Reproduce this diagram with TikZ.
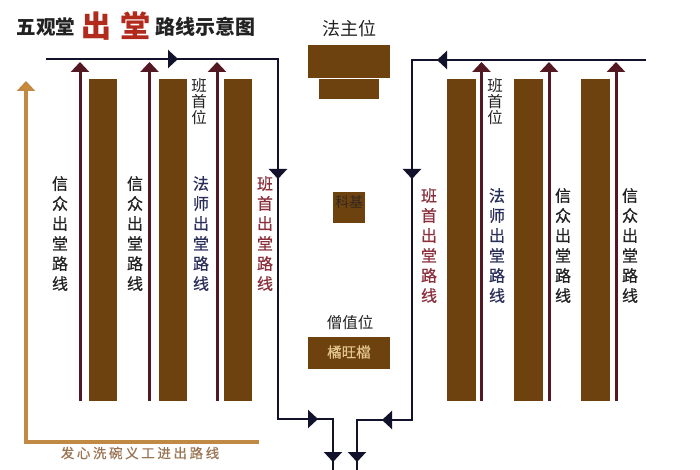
\documentclass[tikz,border=0pt]{standalone}
\usepackage{fontspec}
\newfontfamily\cjk{Noto Sans CJK SC}
\newfontfamily\cjkf[FakeBold=0.5]{Noto Sans CJK SC}
\usetikzlibrary{arrows.meta}
\definecolor{barbrown}{HTML}{6E420F}
\definecolor{routered}{HTML}{541822}
\definecolor{routenavy}{HTML}{12122C}
\definecolor{routeorange}{HTML}{C08A45}
\definecolor{headorange}{HTML}{D98A2B}
\definecolor{textred}{HTML}{8A2F3C}
\definecolor{textnavy}{HTML}{2A2F5A}
\definecolor{textdark}{HTML}{222222}
\definecolor{titlered}{HTML}{B22A1C}
\definecolor{texttan}{HTML}{9A7350}
\definecolor{plaquetext}{HTML}{E3C48C}
\tikzset{
  x=1pt,y=-1pt,
  bar/.style={fill=barbrown,draw=none},
  navyline/.style={draw=routenavy,line width=2.2pt,line cap=rect},
  navytip/.style={navyline,-{Triangle[width=18pt,length=10pt,fill=routenavy]}},
  redroute/.style={draw=routered,line width=3pt,-{Triangle[width=18pt,length=10pt,fill=routered]}},
  orangeroute/.style={draw=routeorange,line width=3.5pt,line cap=rect},
  orangetip/.style={draw=routeorange,line width=3.5pt,-{Triangle[width=18pt,length=10pt,fill=headorange]}},
  vtext/.style={font=\cjkf\fontsize{16}{20}\selectfont,align=center,anchor=north,inner sep=0pt},
  stext/.style={font=\cjk\fontsize{15.5}{16.3}\selectfont,align=center,anchor=north,inner sep=0pt,text=textdark},
}
\begin{document}
\begin{tikzpicture}
\useasboundingbox (0,0) rectangle (700,470);
\fill[white] (0,0) rectangle (700,470);
% title
\node[font=\cjk\bfseries\fontsize{19.5}{20}\selectfont,text=textdark,inner sep=0pt] (t1) at (46,27) {五观堂};
\node[font=\cjk\bfseries\fontsize{30}{30}\selectfont,text=titlered,inner sep=0pt] (t2) at (96,26) {出};
\node[font=\cjk\bfseries\fontsize{30}{30}\selectfont,text=titlered,inner sep=0pt] (t3) at (135,26) {堂};
\node[font=\cjk\bfseries\fontsize{20}{20}\selectfont,text=textdark,inner sep=0pt] (t4) at (205,27) {路线示意图};
% bars
\foreach \n/\a/\b in {bl1/88.5/117,bl2/159/187,bl3/224/252,br1/447/475.5,br2/514/542.5,br3/581/610}
  \fill[bar] (\a,79) rectangle (\b,401);
% centre
\node[font=\cjk\fontsize{18}{18}\selectfont,text=textdark,inner sep=0pt] (fzw) at (349,29) {法主位};
\fill[bar] (308,45) rectangle (390,78);
\fill[bar] (318.5,79) rectangle (379,99);
\fill[bar] (333,192) rectangle (365,223);
\node[font=\cjk\fontsize{14}{14}\selectfont,text=textdark!80!barbrown,inner sep=0pt] (kj) at (349,202) {科基};
\node[font=\cjk\fontsize{15.5}{16}\selectfont,text=textdark,inner sep=0pt] (szw) at (350,323) {僧值位};
\fill[bar] (308,337) rectangle (390,369);
\node[font=\cjkf\fontsize{14.5}{14}\selectfont,text=plaquetext,inner sep=0pt] (jw) at (349,352) {橘旺檔};
% coordinates of the routes
\coordinate (L0) at (47,59);
\coordinate (La) at (178,59);
\coordinate (Lc) at (278,59);
\coordinate (Ld) at (278,179);
\coordinate (Le) at (278,419);
\coordinate (Lf) at (318,419);
\coordinate (Lg) at (333,419);
\coordinate (Lh) at (333,462);
\coordinate (Li) at (333,470);
\coordinate (R0) at (645,60);
\coordinate (Ra) at (437,60);
\coordinate (Rc) at (412,60);
\coordinate (Rd) at (412,179);
\coordinate (Re) at (412,420);
\coordinate (Rf) at (382,420);
\coordinate (Rg) at (357,420);
\coordinate (Rh) at (357,462);
\coordinate (Ri) at (357,470);
% left route
\draw[navytip] (L0) -- (La);
\draw[navytip] (La) -- (Lc) -- (Ld);
\draw[navyline] (Ld) -- (Le) -- (Lf);
\draw[navytip] (Le) -- (Lf);
\draw[navyline] (Lf) -- (Lg) -- (Li);
\draw[navytip] (Lf) -- (Lg) -- (Lh);
% right route
\draw[navytip] (R0) -- (Ra);
\draw[navytip] (Ra) -- (Rc) -- (Rd);
\draw[navyline] (Rd) -- (Re) -- (Rf);
\draw[navytip] (Re) -- (Rf);
\draw[navyline] (Rf) -- (Rg) -- (Ri);
\draw[navytip] (Rf) -- (Rg) -- (Rh);
% red routes
\foreach \x in {80,149.5,217,481.5,549,616} {
  \coordinate (rb) at (\x,401);
  \coordinate (rt) at (\x,62);
  \draw[redroute] (rb) -- (rt);
}
% orange route
\coordinate (Oe) at (257,442);
\coordinate (Oc) at (26,442);
\coordinate (Ot) at (26,81);
\draw[orangeroute] (Oe) -- (Oc);
\draw[orangetip] (Oc) -- (Ot);
\node[font=\cjkf\fontsize{13.5}{14}\selectfont,text=texttan,inner sep=0pt] (ot) at (140,453) {发\kern2.6pt 心\kern2.6pt 洗\kern2.6pt 碗\kern2.6pt 义\kern2.6pt 工\kern2.6pt 进\kern2.6pt 出\kern2.6pt 路\kern2.6pt 线};
% vertical texts
\node[vtext,text=textdark] (v1) at (60,176) {信\\众\\出\\堂\\路\\线};
\node[vtext,text=textdark] (v2) at (135,176) {信\\众\\出\\堂\\路\\线};
\node[vtext,text=textnavy] (v3) at (201,176) {法\\师\\出\\堂\\路\\线};
\node[vtext,text=textred] (v4) at (265,176) {班\\首\\出\\堂\\路\\线};
\node[vtext,text=textred] (v5) at (429,188) {班\\首\\出\\堂\\路\\线};
\node[vtext,text=textnavy] (v6) at (497,188) {法\\师\\出\\堂\\路\\线};
\node[vtext,text=textdark] (v7) at (563,188) {信\\众\\出\\堂\\路\\线};
\node[vtext,text=textdark] (v8) at (630,188) {信\\众\\出\\堂\\路\\线};
\node[stext] (b1) at (199,78) {班\\首\\位};
\node[stext] (b2) at (495,78) {班\\首\\位};
\end{tikzpicture}
\end{document}
